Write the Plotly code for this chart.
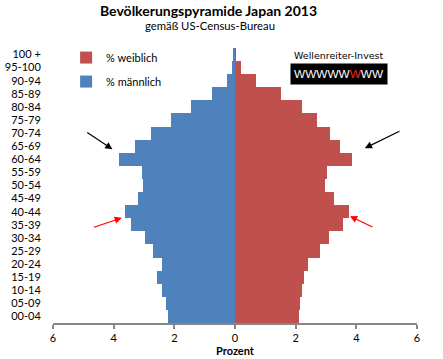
import plotly.graph_objects as go

age_groups = ["00-04", "05-09", "10-14", "15-19", "20-24", "25-29", "30-34",
              "35-39", "40-44", "45-49", "50-54", "55-59", "60-64", "65-69",
              "70-74", "75-79", "80-84", "85-89", "90-94", "95-100", "100 +"]
male_pct = [2.22, 2.29, 2.42, 2.58, 2.42, 2.71, 2.98, 3.44, 3.63, 3.20, 3.04,
            3.07, 3.83, 3.30, 2.78, 2.12, 1.46, 0.77, 0.25, 0.10, 0.04]
female_pct = [2.10, 2.13, 2.20, 2.26, 2.39, 2.79, 3.09, 3.55, 3.75, 3.25, 2.96,
              3.02, 3.85, 3.45, 3.12, 2.71, 2.20, 1.50, 0.70, 0.20, 0.02]
x_ticks = [-6, -4, -2, 0, 2, 4, 6]
x_tick_text = ["6", "4", "2", "0", "2", "4", "6"]

FONT = "Lato, Open Sans, sans-serif"
BLUE = "#4F81BD"
RED = "#C0504D"
GRAY = "#868686"

fig = go.Figure()
fig.add_trace(go.Bar(
    y=age_groups, x=female_pct, orientation="h", name="% weiblich",
    marker=dict(color=RED, line=dict(width=0)), legendgroup="w",
))
fig.add_trace(go.Bar(
    y=age_groups, x=[-v for v in male_pct], orientation="h", name="% männlich",
    marker=dict(color=BLUE, line=dict(width=0)), legendgroup="m",
))

fig.update_layout(
    width=443, height=359,
    margin=dict(l=53, r=26, t=48, b=36),
    paper_bgcolor="white", plot_bgcolor="white",
    barmode="relative", bargap=0,
    font=dict(family=FONT, size=11, color="black"),
    showlegend=True,
    legend=dict(x=0.036, y=1.018, xanchor="left", yanchor="top",
                bgcolor="rgba(0,0,0,0)", traceorder="grouped",
                tracegroupgap=5, font=dict(size=11, color="black")),
    xaxis=dict(range=[-6, 6], tickvals=x_ticks, ticktext=x_tick_text,
               automargin=False,
               showgrid=False, zeroline=True, zerolinecolor=GRAY, zerolinewidth=2,
               showline=True, linecolor=GRAY, linewidth=2,
               ticks="outside", ticklen=4, tickcolor=GRAY, tickwidth=2,
               layer="above traces",
               title=dict(text="<b>Prozent</b>", standoff=2, font=dict(size=11)),
               tickfont=dict(size=11)),
    yaxis=dict(type="category", categoryorder="array", categoryarray=age_groups,
               tickmode="array", tickvals=age_groups, ticktext=age_groups,
               automargin=False,
               showgrid=False, zeroline=False, showline=False,
               ticks="outside", ticklen=9, tickcolor="rgba(0,0,0,0)",
               tickfont=dict(size=11)),
)

fig.add_annotation(text="<b>Bevölkerungspyramide Japan 2013</b>", xref="paper", yref="paper",
                   x=0.426, y=1.0, yshift=38, xanchor="center", yanchor="middle", showarrow=False,
                   font=dict(size=14, family=FONT, color="black"))
fig.add_annotation(text="gemäß US-Census-Bureau", xref="paper", yref="paper",
                   x=0.43, y=1.0, yshift=23, xanchor="center", yanchor="middle", showarrow=False,
                   font=dict(size=11.3, family=FONT, color="black"))

fig.add_annotation(text="Wellenreiter-Invest", xref="paper", yref="paper",
                   x=0.787, y=1.0, yshift=-7, xanchor="center", yanchor="middle", showarrow=False,
                   font=dict(size=9.5, family="DejaVu Sans", color="black"))
fig.add_annotation(text="WWWWW<span style='color:#ff2020'>W</span>WW", xref="paper", yref="paper",
                   x=0.787, y=1.0, yshift=-26, xanchor="center", yanchor="middle", showarrow=False,
                   bgcolor="black", borderpad=3,
                   font=dict(size=11.8, family="Liberation Sans", color="white"))

arrows = [
    (-4.04, 12.77, -4.92, 14.12, "black"),
    (4.28, 12.85, 5.47, 14.2, "black"),
    (-3.73, 7.53, -4.70, 6.77, "red"),
    (3.79, 7.66, 4.58, 6.77, "red"),
]
for tx, ty, sx, sy, col in arrows:
    fig.add_annotation(x=tx, y=ty, ax=sx, ay=sy, xref="x", yref="y", axref="x", ayref="y",
                       showarrow=True, arrowhead=2, arrowsize=1.2, arrowwidth=1.2,
                       arrowcolor=col, text="")

fig.write_html("out.html", config={"displayModeBar": False},
               post_script="document.body.style.margin='0';document.body.style.overflow='hidden';")
